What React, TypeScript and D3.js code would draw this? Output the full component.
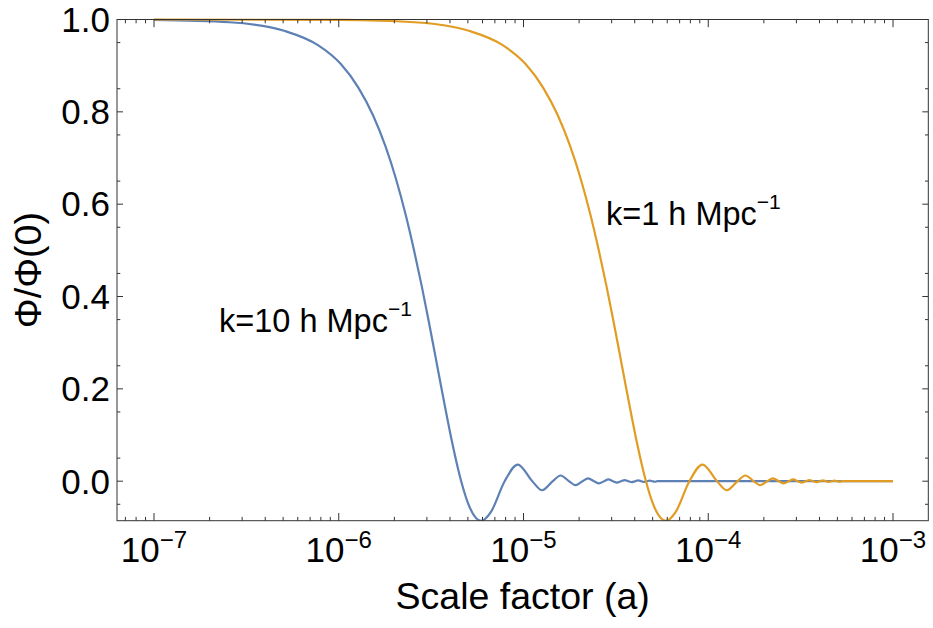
import React from "react";
import * as d3 from "d3";

// ---- data ----
const xTickExponents = [-7, -6, -5, -4, -3];
const yTickValues = [0, 0.2, 0.4, 0.6, 0.8, 1.0];
const yTickLabels = ["0.0", "0.2", "0.4", "0.6", "0.8", "1.0"];

// k = 1 h Mpc^-1 (orange)
const orangeA = [
  1e-7, 1.02e-6, 2.56e-6, 5.12e-6, 7.68e-6, 1.024e-5, 1.279e-5, 1.535e-5, 1.791e-5, 2.047e-5,
  2.303e-5, 2.559e-5, 2.815e-5, 3.071e-5, 3.327e-5, 3.582e-5, 3.838e-5, 4.094e-5, 4.599e-5, 5.118e-5,
  5.899e-5, 6.653e-5, 7.907e-5, 9.309e-5, 1.116e-4, 1.261e-4, 1.44e-4, 1.588e-4, 1.763e-4, 1.913e-4,
  2.085e-4, 2.237e-4, 2.407e-4, 2.56e-4, 2.729e-4, 2.883e-4, 3.051e-4, 3.206e-4, 3.373e-4, 3.528e-4,
  3.695e-4, 3.85e-4, 4.017e-4, 4.173e-4, 4.339e-4, 4.495e-4, 4.66e-4, 4.817e-4, 4.98e-4, 5.14e-4,
  5.3e-4, 1e-3,
];
const orangeV = [
  1.0, 0.999, 0.994, 0.975, 0.945, 0.904, 0.852, 0.792, 0.725, 0.653,
  0.577, 0.499, 0.422, 0.346, 0.273, 0.205, 0.143, 0.087, 0, -0.057,
  -0.086, -0.067, 0, 0.036, 0, -0.0196, 0, 0.0124, 0, -0.0086,
  0, 0.0063, 0, -0.0048, 0, 0.0038, 0, -0.0031, 0, 0.0025,
  0, -0.0021, 0, 0.0018, 0, -0.0016, 0, 0.0013, 0, -0.0012,
  0, 0,
];

// k = 10 h Mpc^-1 (blue)
const blueA = [
  1e-7, 2.56e-7, 5.12e-7, 7.68e-7, 1.024e-6, 1.279e-6, 1.535e-6, 1.791e-6, 2.047e-6, 2.303e-6,
  2.559e-6, 2.815e-6, 3.071e-6, 3.327e-6, 3.582e-6, 3.838e-6, 4.094e-6, 4.599e-6, 5.118e-6, 5.899e-6,
  6.653e-6, 7.907e-6, 9.309e-6, 1.116e-5, 1.261e-5, 1.44e-5, 1.588e-5, 1.763e-5, 1.913e-5, 2.085e-5,
  2.237e-5, 2.407e-5, 2.56e-5, 2.729e-5, 2.883e-5, 3.051e-5, 3.206e-5, 3.373e-5, 3.528e-5, 3.695e-5,
  3.85e-5, 4.017e-5, 4.173e-5, 4.339e-5, 4.495e-5, 4.66e-5, 4.817e-5, 4.98e-5, 5.14e-5, 5.3e-5,
  1e-3,
];
const blueV = [
  0.999, 0.994, 0.975, 0.945, 0.904, 0.852, 0.792, 0.725, 0.653, 0.577,
  0.499, 0.422, 0.346, 0.273, 0.205, 0.143, 0.087, 0, -0.057, -0.086,
  -0.067, 0, 0.036, 0, -0.0196, 0, 0.0124, 0, -0.0086, 0,
  0.0063, 0, -0.0048, 0, 0.0038, 0, -0.0031, 0, 0.0025, 0,
  -0.0021, 0, 0.0018, 0, -0.0016, 0, 0.0013, 0, -0.0012, 0,
  0,
];

const FONT = "'Liberation Sans', Arial, Helvetica, sans-serif";
const BLUE = "#5E81B5";
const ORANGE = "#E19C24";
const FRAME = "#333333";

export default function App() {
  const W = 933;
  const H = 628;
  const left = 117;
  const right = 928.3;
  const top = 19.5;
  const bottom = 520.7;

  const x = d3.scaleLog().domain([1e-7, 1e-3]).range([154, 893]);
  const y = d3.scaleLinear().domain([0, 1]).range([481.2, 19.5]);

  const line = d3
    .line<[number, number]>()
    .x((d) => x(d[0]))
    .y((d) => y(d[1]))
    .curve(d3.curveMonotoneX);

  const orangePts: [number, number][] = orangeA.map((a, i) => [a, orangeV[i]]);
  const bluePts: [number, number][] = blueA.map((a, i) => [a, blueV[i]]);

  // x ticks
  const xMajor = xTickExponents.map((e) => Math.pow(10, e));
  const xMinor: number[] = [];
  for (let e = -8; e <= -3; e++) {
    for (let m = 2; m <= 9; m++) {
      const v = m * Math.pow(10, e);
      const px = x(v);
      if (px >= left && px <= right) xMinor.push(v);
    }
  }
  // y ticks
  const yMinor: number[] = [];
  for (let i = -1; i <= 19; i += 2) {
    const v = i * 0.05;
    const py = y(v);
    if (py >= top && py <= bottom) yMinor.push(v);
  }

  const xMajLen = 7.7;
  const xMinLen = 3.8;
  const yMajLen = 6;
  const yMinLen = 3.3;

  return (
    <svg
      width={W}
      height={H}
      style={{ position: "absolute", left: 0, top: 0, background: "#fff" }}
      fontFamily={FONT}
    >
      <defs>
        <clipPath id="plotclip">
          <rect x={left} y={top - 2} width={right - left} height={bottom - top + 2} />
        </clipPath>
      </defs>
      <rect x={0} y={0} width={W} height={H} fill="#fff" />

      {/* curves */}
      <g clipPath="url(#plotclip)" fill="none" strokeWidth={2.2} strokeLinejoin="round">
        <path d={line(bluePts) || ""} stroke={BLUE} />
        <path d={line(orangePts) || ""} stroke={ORANGE} />
      </g>

      {/* frame */}
      <rect
        x={left}
        y={top}
        width={right - left}
        height={bottom - top}
        fill="none"
        stroke={FRAME}
        strokeWidth={1}
      />

      {/* x ticks bottom & top */}
      <g stroke={FRAME} strokeWidth={1}>
        {xMajor.map((v, i) => (
          <g key={"xM" + i}>
            <line x1={x(v)} x2={x(v)} y1={bottom} y2={bottom - xMajLen} />
            <line x1={x(v)} x2={x(v)} y1={top} y2={top + xMajLen} />
          </g>
        ))}
        {xMinor.map((v, i) => (
          <g key={"xm" + i}>
            <line x1={x(v)} x2={x(v)} y1={bottom} y2={bottom - xMinLen} />
            <line x1={x(v)} x2={x(v)} y1={top} y2={top + xMinLen} />
          </g>
        ))}
        {yTickValues.map((v, i) => (
          <g key={"yM" + i}>
            <line x1={left} x2={left + yMajLen} y1={y(v)} y2={y(v)} />
            <line x1={right} x2={right - yMajLen} y1={y(v)} y2={y(v)} />
          </g>
        ))}
        {yMinor.map((v, i) => (
          <g key={"ym" + i}>
            <line x1={left} x2={left + yMinLen} y1={y(v)} y2={y(v)} />
            <line x1={right} x2={right - yMinLen} y1={y(v)} y2={y(v)} />
          </g>
        ))}
      </g>

      {/* x tick labels */}
      {xTickExponents.map((e, i) => (
        <text
          key={"xl" + i}
          x={x(Math.pow(10, e))}
          y={561.7}
          textAnchor="middle"
          fontSize={35}
          fill="#000"
        >
          10
          <tspan fontSize={24} dy={-13.4}>
            {"\u2212" + Math.abs(e)}
          </tspan>
        </text>
      ))}

      {/* y tick labels */}
      {yTickValues.map((v, i) => (
        <text
          key={"yl" + i}
          x={110}
          y={y(v) + 12.3}
          textAnchor="end"
          fontSize={35}
          fill="#000"
        >
          {yTickLabels[i]}
        </text>
      ))}

      {/* axis titles */}
      <text x={(left + right) / 2} y={609.3} textAnchor="middle" fontSize={37.5} fill="#000">
        Scale factor (a)
      </text>
      <text
        transform={`translate(40.5, ${(top + bottom) / 2}) rotate(-90)`}
        textAnchor="middle"
        fontSize={37.5}
        fill="#000"
      >
        Φ/Φ(0)
      </text>

      {/* curve labels */}
      <text x={219} y={331.7} fontSize={32.5} fill="#000">
        k=10 h Mpc
        <tspan fontSize={21} dy={-16}>
          {"\u22121"}
        </tspan>
      </text>
      <text x={606} y={225} fontSize={32.5} fill="#000">
        k=1 h Mpc
        <tspan fontSize={21} dy={-16}>
          {"\u22121"}
        </tspan>
      </text>
    </svg>
  );
}
